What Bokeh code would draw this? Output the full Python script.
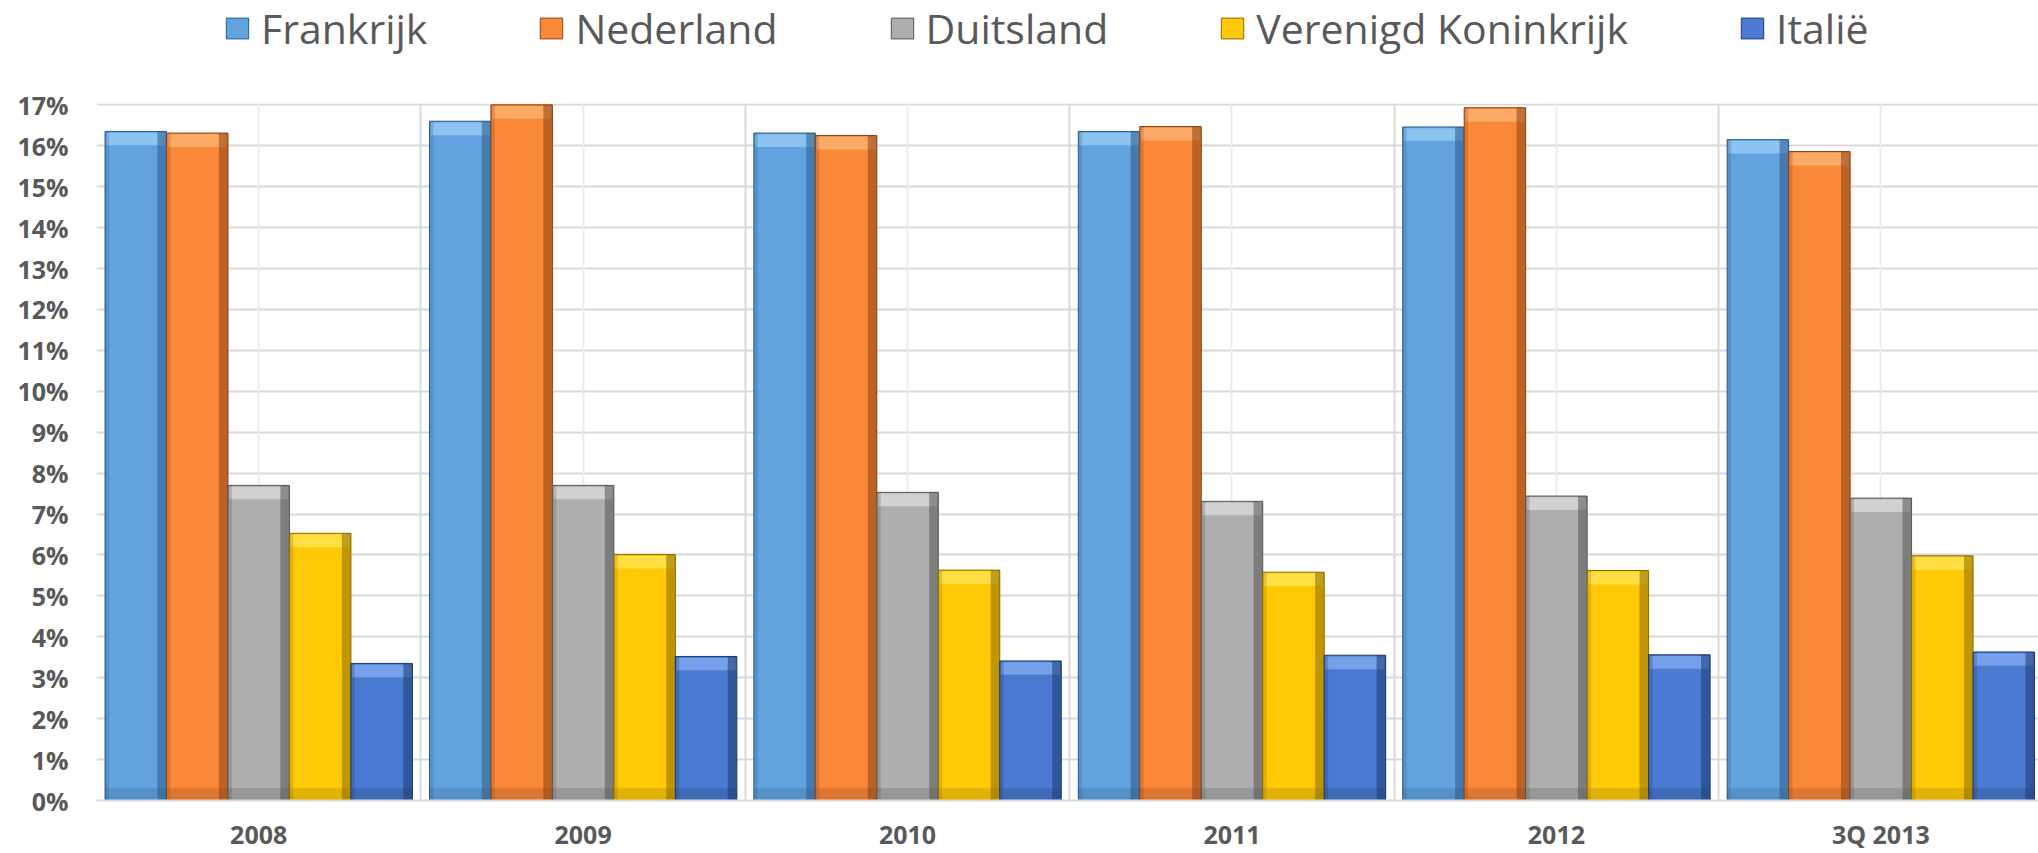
from bokeh.plotting import figure
from bokeh.models import (Range1d, FixedTicker, Grid, Legend, LegendItem,
                          PrintfTickFormatter, BoxAnnotation)
from bokeh.embed import file_html
from bokeh.resources import INLINE

# ---- data (percent) ----
categories = ["2008", "2009", "2010", "2011", "2012", "3Q 2013"]
series_names = ["Frankrijk", "Nederland", "Duitsland", "Verenigd Koninkrijk", "Italië"]
frankrijk = [16.35, 16.60, 16.31, 16.35, 16.46, 16.15]
nederland = [16.31, 17.00, 16.25, 16.47, 16.93, 15.86]
duitsland = [7.70, 7.70, 7.53, 7.31, 7.44, 7.39]
verenigd_koninkrijk = [6.53, 6.01, 5.63, 5.58, 5.62, 5.98]
italie = [3.35, 3.52, 3.41, 3.55, 3.56, 3.63]
y_ticks = list(range(0, 18))

series = [frankrijk, nederland, duitsland, verenigd_koninkrijk, italie]
main_colors = ["#62A3DF", "#F98839", "#AEAEAE", "#FFC907", "#4A7AD1"]
light_colors = ["#9CCDF5", "#FDB677", "#DCDCDC", "#FFE65A", "#86AEF0"]
dark_colors = ["#2C5A86", "#8A4316", "#555555", "#8A6A00", "#1D3A70"]

TEXT = "#595959"
GRID = "#d9d9d9"

n = len(categories)
centers = [i + 0.5 for i in range(n)]
bw = 0.1895
y_top = y_ticks[-1]

# frame spans the full height so that the legend (drawn inside the frame) is visible;
# the value axis still maps 0..17% onto the same pixels as the reference.
p = figure(width=2038, height=853,
           x_range=Range1d(0, 5.986), y_range=Range1d(0, 19.55),
           output_backend="svg", toolbar_location=None,
           min_border_left=96, min_border_right=0,
           min_border_top=0, min_border_bottom=51)
p.outline_line_color = None
p.background_fill_color = "white"
p.border_fill_color = "white"

# grids
p.ygrid.ticker = FixedTicker(ticks=y_ticks)
p.ygrid.grid_line_color = GRID
p.ygrid.grid_line_width = 2
p.xgrid.ticker = FixedTicker(ticks=list(range(n + 1)))
p.xgrid.grid_line_color = GRID
p.xgrid.grid_line_width = 2
center_grid = Grid(dimension=0, ticker=FixedTicker(ticks=centers),
                   grid_line_color="#ededed", grid_line_width=2)
p.add_layout(center_grid)
# blank area above the 17% line (where the legend lives)
p.add_layout(BoxAnnotation(bottom=y_top + 0.03, fill_color="white", fill_alpha=1.0,
                           line_color=None, level="underlay"))

# axes
p.yaxis.ticker = FixedTicker(ticks=y_ticks)
p.yaxis.formatter = PrintfTickFormatter(format="%d%%")
p.yaxis.axis_line_color = None
p.yaxis.major_tick_line_color = None
p.yaxis.minor_tick_line_color = None
p.yaxis.major_tick_out = 0
p.yaxis.major_tick_in = 0
p.yaxis.major_label_standoff = 28
p.yaxis.major_label_text_font = "Open Sans"
p.yaxis.major_label_text_font_style = "bold"
p.yaxis.major_label_text_font_size = "25px"
p.yaxis.major_label_text_color = TEXT

p.xaxis.ticker = FixedTicker(ticks=centers)
p.xaxis.major_label_overrides = {c: cat for c, cat in zip(centers, categories)}
p.xaxis.axis_line_color = GRID
p.xaxis.axis_line_width = 2
p.xaxis.major_tick_line_color = None
p.xaxis.minor_tick_line_color = None
p.xaxis.major_tick_out = 0
p.xaxis.major_tick_in = 0
p.xaxis.major_label_standoff = 16
p.xaxis.major_label_text_font = "Open Sans"
p.xaxis.major_label_text_font_style = "bold"
p.xaxis.major_label_text_font_size = "25px"
p.xaxis.major_label_text_color = TEXT

items = []
for i, (name, vals) in enumerate(zip(series_names, series)):
    xs = [c + (i - 2) * bw for c in centers]
    r = p.vbar(x=xs, top=vals, bottom=0, width=bw,
               fill_color=main_colors[i], line_color=dark_colors[i], line_width=1)
    items.append(LegendItem(label=name, renderers=[r]))
    lefts = [x - bw / 2 for x in xs]
    rights = [x + bw / 2 for x in xs]
    # top bevel highlight
    p.quad(left=[l + 0.004 for l in lefts], right=[rr - 0.004 for rr in rights],
           top=[v - 0.03 for v in vals], bottom=[v - 0.34 for v in vals],
           fill_color=light_colors[i], fill_alpha=0.75, line_color=None)
    # right shadow
    p.quad(left=[rr - 0.028 for rr in rights], right=rights,
           top=vals, bottom=[0] * n,
           fill_color=dark_colors[i], fill_alpha=0.55, line_color=None)
    # left shade
    p.quad(left=lefts, right=[l + 0.012 for l in lefts],
           top=vals, bottom=[0] * n,
           fill_color=dark_colors[i], fill_alpha=0.25, line_color=None)
    # bottom bevel
    p.quad(left=lefts, right=rights, top=[0.3] * n, bottom=[0] * n,
           fill_color=dark_colors[i], fill_alpha=0.25, line_color=None)

legend = Legend(items=items, orientation="horizontal", location=(127, 744),
                border_line_color=None, background_fill_alpha=0,
                padding=0, margin=0, spacing=110, label_standoff=10,
                glyph_width=28, glyph_height=26,
                label_text_font="Open Sans", label_text_font_size="41px",
                label_text_color=TEXT)
p.add_layout(legend)

open("out.html", "w").write(file_html(p, INLINE))
